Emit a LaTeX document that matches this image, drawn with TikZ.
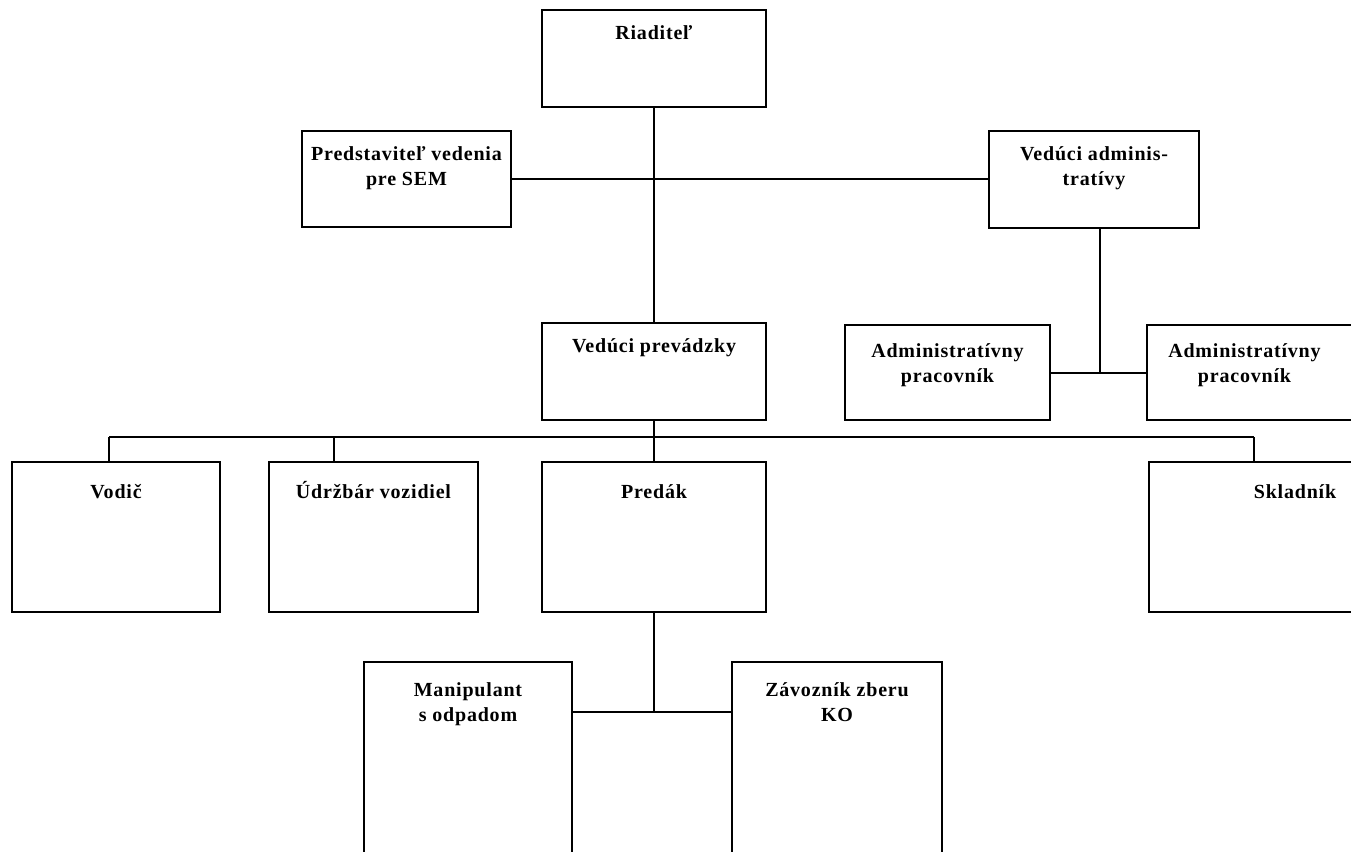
\documentclass[tikz,border=0pt]{standalone}
\usepackage{fontspec}
\setmainfont{Liberation Serif}[LetterSpace=4]
\tikzset{
  orgbox/.style={draw, line width=1.8pt, rectangle, inner sep=0pt},
  lbl/.style={font=\bfseries\fontsize{20}{25}\selectfont, align=center, inner sep=0pt, anchor=north},
  conn/.style={line width=1.8pt},
}
\begin{document}
\begin{tikzpicture}[x=1pt,y=-1pt]
\useasboundingbox (0,0) rectangle (1351,851);
\clip (0,0) rectangle (1351,851);
% boxes
\node[orgbox, minimum width=224pt, minimum height=97pt, label={[lbl,yshift=-16pt]north:Riaditeľ}] (r) at (654,58.5) {};
\node[orgbox, minimum width=209pt, minimum height=96pt, label={[lbl,yshift=-16pt]north:Predstaviteľ vedenia\\pre SEM}] (p) at (406.5,179) {};
\node[orgbox, minimum width=210pt, minimum height=97pt, label={[lbl,yshift=-16pt]north:Vedúci adminis-\\tratívy}] (a) at (1094,179.5) {};
\node[orgbox, minimum width=224pt, minimum height=97pt, label={[lbl,yshift=-16pt]north:Vedúci prevádzky}] (vp) at (654,371.5) {};
\node[orgbox, minimum width=205pt, minimum height=95pt, label={[lbl,yshift=-19pt]north:Administratívny\\pracovník}] (ap1) at (947.5,372.5) {};
\node[orgbox, minimum width=205pt, minimum height=95pt, label={[lbl,yshift=-19pt,xshift=-5pt]north:Administratívny\\pracovník}] (ap2) at (1249.5,372.5) {};
\node[orgbox, minimum width=208pt, minimum height=150pt, label={[lbl,yshift=-23pt]north:Vodič}] (vod) at (116,537) {};
\node[orgbox, minimum width=209pt, minimum height=150pt, label={[lbl,yshift=-20pt]north:Údržbár vozidiel}] (udr) at (373.5,537) {};
\node[orgbox, minimum width=224pt, minimum height=150pt, label={[lbl,yshift=-23pt]north:Predák}] (pre) at (654,537) {};
\node[orgbox, minimum width=296pt, minimum height=150pt, label={[lbl,yshift=-23pt,xshift=-2pt]north:Skladník}] (skl) at (1297,537) {};
\node[orgbox, minimum width=208pt, minimum height=238pt, label={[lbl,yshift=-21pt]north:Manipulant\\s odpadom}] (man) at (468,781) {};
\node[orgbox, minimum width=210pt, minimum height=238pt, label={[lbl,yshift=-21pt]north:Závozník zberu\\KO}] (zav) at (837,781) {};
% junction coordinates
\coordinate (ja) at (1100,373);
\coordinate (bus) at (654,437);
\coordinate (bl) at (109,437);
\coordinate (bu) at (334,437);
\coordinate (br) at (1254,437);
\coordinate (jp) at (654,712);
% connectors
\draw[conn] (r.south) -- (vp.north);
\draw[conn] (p.east) -- (p.east -| a.west);
\draw[conn] (ja |- a.south) -- (ja);
\draw[conn] (ap1.east |- ja) -- (ap2.west |- ja);
\draw[conn] (vp.south) -- (bus);
\draw[conn] (bl) -- (br);
\draw[conn] (bl) -- (bl |- vod.north);
\draw[conn] (bu) -- (bu |- udr.north);
\draw[conn] (bus) -- (pre.north);
\draw[conn] (br) -- (br |- skl.north);
\draw[conn] (pre.south) -- (jp);
\draw[conn] (man.east |- jp) -- (zav.west |- jp);
\end{tikzpicture}
\end{document}
